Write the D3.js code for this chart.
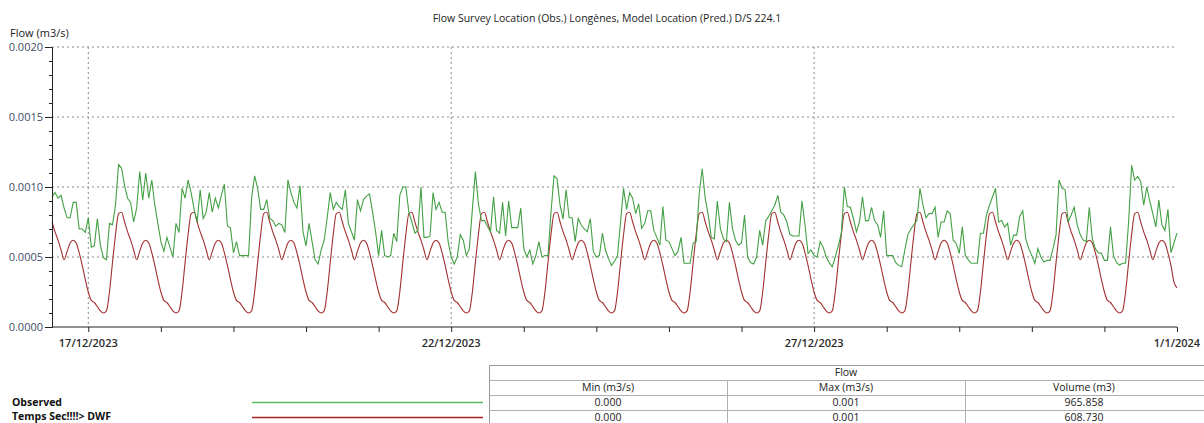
<!DOCTYPE html>
<html>
<head>
<meta charset="utf-8">
<script src="https://d3js.org/d3.v7.min.js"></script>
<style>
  body { margin: 0; background: #fff; }
  svg { display: block; font-family: "Open Sans", "Noto Sans", sans-serif; }
</style>
</head>
<body>
<div id="chart"></div>
<script>
// hourly series, flow in L/s (axis shows m3/s), first value at 16/12/2023 12:00
var startTime = Date.UTC(2023, 11, 16, 12)

var observed = [
  0.93, 0.96, 0.92, 0.94, 0.85, 0.78, 0.78, 0.89, 0.89, 0.70, 0.70, 0.675, 0.78, 0.57, 0.58, 0.775, 0.585, 0.495, 0.48, 0.74, 0.73, 0.87, 1.16, 1.135,
  1.01, 0.92, 0.89, 0.75, 0.85, 1.11, 0.905, 1.10, 0.92, 1.05, 0.87, 0.74, 0.61, 0.54, 0.64, 0.57, 0.50, 0.74, 0.675, 0.99, 0.92,
  1.05, 0.96, 0.84, 0.75, 0.98, 0.775, 0.82, 0.96, 0.82, 0.92, 0.85, 0.94, 1.02, 0.72, 0.71, 0.53, 0.61, 0.51, 0.51, 0.51, 0.51, 0.92, 1.08, 0.99,
  0.84, 0.84, 0.91, 0.775, 0.76, 0.72, 0.74, 0.73, 0.675, 1.05, 0.96, 0.89, 0.85, 1.01, 0.68, 0.58, 0.74, 0.61, 0.48, 0.45, 0.55, 0.62, 0.78, 0.96, 0.84,
  0.89, 0.86, 0.84, 0.98, 0.74, 0.68, 0.62, 0.91, 0.83, 0.91, 0.935, 0.95, 0.82, 0.68, 0.51, 0.69, 0.51, 0.50, 0.51, 0.67, 0.61, 0.94, 1.00, 1.00,
  0.82, 0.75, 0.67, 0.69, 1.00, 0.64, 0.64, 0.65, 0.96, 0.84, 0.89, 0.82, 0.82, 0.61, 0.50, 0.45, 0.50, 0.66, 0.62, 0.51, 0.56, 0.84, 1.11, 0.88,
  0.76, 0.76, 0.72, 0.68, 0.93, 0.69, 0.67, 0.89, 0.65, 0.90, 0.71, 0.71, 0.71, 0.85, 0.56, 0.50, 0.55, 0.45, 0.51, 0.61, 0.50, 0.51, 0.51, 0.82,
  1.08, 1.06, 0.87, 0.77, 0.98, 0.78, 0.78, 0.61, 0.775, 0.73, 0.70, 0.68, 0.775, 0.54, 0.50, 0.51, 0.67, 0.55, 0.49, 0.44, 0.47,
  0.51, 0.75, 0.99, 0.84, 0.96, 0.92, 0.81, 0.88, 0.704, 0.74, 0.83, 0.83, 0.69, 0.64, 0.585, 0.86, 0.62, 0.61, 0.56, 0.51, 0.54, 0.64, 0.455, 0.455,
  0.455, 0.60, 0.61, 0.95, 1.13, 0.92, 0.80, 0.64, 0.63, 0.90, 0.705, 0.63, 0.61, 0.89, 0.705, 0.62, 0.585, 0.60, 0.80, 0.50, 0.46, 0.45, 0.50, 0.69,
  0.585, 0.76, 0.79, 0.83, 0.87, 0.94, 0.82, 0.80, 0.75, 0.66, 0.65, 0.65, 0.65, 0.90, 0.73, 0.526, 0.55, 0.51, 0.50, 0.61, 0.57, 0.50, 0.46, 0.43,
  0.50, 0.58, 0.67, 1.00, 0.86, 0.855, 0.775, 0.68, 0.75, 0.93, 0.76, 0.76, 0.855, 0.76, 0.73, 0.64, 0.83, 0.51, 0.51, 0.51, 0.46,
  0.44, 0.43, 0.55, 0.66, 0.70, 0.73, 0.76, 0.99, 0.87, 0.78, 0.81, 0.81, 0.855, 0.64, 0.75, 0.75, 0.83, 0.81, 0.62, 0.597, 0.526, 0.715, 0.51, 0.48,
  0.455, 0.455, 0.455, 0.67, 0.67, 0.80, 0.87, 0.93, 0.99, 0.75, 0.76, 0.715, 0.74, 0.585, 0.656, 0.656, 0.79, 0.83, 0.63, 0.56, 0.51, 0.455, 0.56, 0.50,
  0.464, 0.476, 0.476, 0.56, 0.656, 1.05, 0.99, 0.98, 0.75, 0.80, 0.855, 0.73, 0.66, 0.62, 0.61, 0.855, 0.63, 0.56, 0.53, 0.526, 0.476, 0.476, 0.715, 0.51,
  0.46, 0.443, 0.455, 0.455, 0.75, 1.155, 1.05, 1.075, 1.04, 0.87, 1.00, 0.90, 0.81, 0.715, 0.906, 0.73, 0.69, 0.84, 0.53, 0.60, 0.67
]

// model dry weather flow, one line per day
var dwf = [
  0.75, 0.68, 0.62, 0.55, 0.48, 0.54, 0.60, 0.62, 0.60, 0.53, 0.44, 0.34,
  0.25, 0.19, 0.175, 0.145, 0.115, 0.10, 0.115, 0.25, 0.46, 0.66, 0.81, 0.82, 0.75, 0.68, 0.62, 0.55, 0.48, 0.54, 0.60, 0.62, 0.60, 0.53, 0.44, 0.34,
  0.25, 0.19, 0.175, 0.145, 0.115, 0.10, 0.115, 0.25, 0.46, 0.66, 0.81, 0.82, 0.75, 0.68, 0.62, 0.55, 0.48, 0.54, 0.60, 0.62, 0.60, 0.53, 0.44, 0.34,
  0.25, 0.19, 0.175, 0.145, 0.115, 0.10, 0.115, 0.25, 0.46, 0.66, 0.81, 0.82, 0.75, 0.68, 0.62, 0.55, 0.48, 0.54, 0.60, 0.62, 0.60, 0.53, 0.44, 0.34,
  0.25, 0.19, 0.175, 0.145, 0.115, 0.10, 0.115, 0.25, 0.46, 0.66, 0.81, 0.82, 0.75, 0.68, 0.62, 0.55, 0.48, 0.54, 0.60, 0.62, 0.60, 0.53, 0.44, 0.34,
  0.25, 0.19, 0.175, 0.145, 0.115, 0.10, 0.115, 0.25, 0.46, 0.66, 0.81, 0.82, 0.75, 0.68, 0.62, 0.55, 0.48, 0.54, 0.60, 0.62, 0.60, 0.53, 0.44, 0.34,
  0.25, 0.19, 0.175, 0.145, 0.115, 0.10, 0.115, 0.25, 0.46, 0.66, 0.81, 0.82, 0.75, 0.68, 0.62, 0.55, 0.48, 0.54, 0.60, 0.62, 0.60, 0.53, 0.44, 0.34,
  0.25, 0.19, 0.175, 0.145, 0.115, 0.10, 0.115, 0.25, 0.46, 0.66, 0.81, 0.82, 0.75, 0.68, 0.62, 0.55, 0.48, 0.54, 0.60, 0.62, 0.60, 0.53, 0.44, 0.34,
  0.25, 0.19, 0.175, 0.145, 0.115, 0.10, 0.115, 0.25, 0.46, 0.66, 0.81, 0.82, 0.75, 0.68, 0.62, 0.55, 0.48, 0.54, 0.60, 0.62, 0.60, 0.53, 0.44, 0.34,
  0.25, 0.19, 0.175, 0.145, 0.115, 0.10, 0.115, 0.25, 0.46, 0.66, 0.81, 0.82, 0.75, 0.68, 0.62, 0.55, 0.48, 0.54, 0.60, 0.62, 0.60, 0.53, 0.44, 0.34,
  0.25, 0.19, 0.175, 0.145, 0.115, 0.10, 0.115, 0.25, 0.46, 0.66, 0.81, 0.82, 0.75, 0.68, 0.62, 0.55, 0.48, 0.54, 0.60, 0.62, 0.60, 0.53, 0.44, 0.34,
  0.25, 0.19, 0.175, 0.145, 0.115, 0.10, 0.115, 0.25, 0.46, 0.66, 0.81, 0.82, 0.75, 0.68, 0.62, 0.55, 0.48, 0.54, 0.60, 0.62, 0.60, 0.53, 0.44, 0.34,
  0.25, 0.19, 0.175, 0.145, 0.115, 0.10, 0.115, 0.25, 0.46, 0.66, 0.81, 0.82, 0.75, 0.68, 0.62, 0.55, 0.48, 0.54, 0.60, 0.62, 0.60, 0.53, 0.44, 0.34,
  0.25, 0.19, 0.175, 0.145, 0.115, 0.10, 0.115, 0.25, 0.46, 0.66, 0.81, 0.82, 0.75, 0.68, 0.62, 0.55, 0.48, 0.54, 0.60, 0.62, 0.60, 0.53, 0.44, 0.34,
  0.25, 0.19, 0.175, 0.145, 0.115, 0.10, 0.115, 0.25, 0.46, 0.66, 0.81, 0.82, 0.75, 0.68, 0.62, 0.55, 0.48, 0.54, 0.60, 0.62, 0.60, 0.53, 0.44, 0.34,
  0.25, 0.19, 0.175, 0.145, 0.115, 0.10, 0.115, 0.25, 0.46, 0.66, 0.81, 0.82, 0.75, 0.68, 0.62, 0.55, 0.48, 0.54, 0.60, 0.62, 0.60, 0.53, 0.44, 0.32,
  0.28
]

var yTicks = [0, 0.5, 1.0, 1.5, 2.0]
var xTickDates = ["2023-12-17", "2023-12-22", "2023-12-27", "2024-01-01"]
var xTickLabels = ["17/12/2023", "22/12/2023", "27/12/2023", "1/1/2024"]

var seriesNames = ["Observed", "Temps Sec!!!!> DWF"]
var seriesColors = ["#44a044", "#a33030"]
var legendColors = ["#5cb85c", "#a52020"]

var tableTitle = "Flow"
var tableHeaders = ["Min (m3/s)", "Max (m3/s)", "Volume (m3)"]
var tableRows = [
  ["0.000", "0.001", "965.858"],
  ["0.000", "0.001", "608.730"]
]

var W = 1204, H = 423
var margin = {top: 47, left: 52, right: 27, bottom: 96}

var svg = d3.select("#chart").append("svg")
  .attr("width", W)
  .attr("height", H)

var hour = 3600 * 1000

var xScale = d3.scaleUtc()
  .domain([new Date(startTime), new Date(Date.UTC(2024, 0, 1))])
  .range([margin.left, W - margin.right])

var yScale = d3.scaleLinear()
  .domain([0, 2])
  .range([H - margin.bottom, margin.top])

var x0 = xScale.range()[0], x1 = xScale.range()[1]
var y0 = yScale.range()[0], y1 = yScale.range()[1]

// grid
svg.append("g").selectAll("line")
  .data(yTicks.filter(function(d){ return d > 0 }))
  .enter().append("line")
  .attr("x1", x0).attr("x2", x1)
  .attr("y1", function(d){ return yScale(d) })
  .attr("y2", function(d){ return yScale(d) })
  .attr("stroke", "#8a8a8a")
  .attr("stroke-dasharray", "2,3")

var majorDates = xTickDates.map(function(d){ return new Date(d + "T00:00:00Z") })

svg.append("g").selectAll("line")
  .data(majorDates.slice(0, 3))
  .enter().append("line")
  .attr("x1", function(d){ return xScale(d) })
  .attr("x2", function(d){ return xScale(d) })
  .attr("y1", y1).attr("y2", y0)
  .attr("stroke", "#8a8a8a")
  .attr("stroke-dasharray", "2,3")

// lines
var obsData = observed.map(function(v, i){ return {t: new Date(startTime + i * hour), v: v} })
var dwfData = dwf.map(function(v, i){ return {t: new Date(startTime + i * hour), v: v} })

var lineLinear = d3.line()
  .x(function(d){ return xScale(d.t) })
  .y(function(d){ return yScale(d.v) })

var lineSmooth = d3.line()
  .curve(d3.curveMonotoneX)
  .x(function(d){ return xScale(d.t) })
  .y(function(d){ return yScale(d.v) })

svg.append("path")
  .attr("d", lineSmooth(dwfData))
  .attr("fill", "none")
  .attr("stroke", seriesColors[1])
  .attr("stroke-width", 1.1)

svg.append("path")
  .attr("d", lineLinear(obsData))
  .attr("fill", "none")
  .attr("stroke", seriesColors[0])
  .attr("stroke-width", 1.1)

// y axis
var yAxis = d3.axisLeft(yScale)
  .tickValues(d3.range(0, 2.0001, 0.1))
  .tickSize(3)
  .tickFormat("")

svg.append("g")
  .attr("transform", "translate(" + x0 + ",0)")
  .call(yAxis)
  .call(function(g){ g.selectAll("path,line").attr("stroke", "#222") })

var yAxisMajor = d3.axisLeft(yScale)
  .tickValues(yTicks)
  .tickSize(7)
  .tickPadding(2)
  .tickFormat(function(d){ return (d / 1000).toFixed(4) })

svg.append("g")
  .attr("transform", "translate(" + x0 + ",0)")
  .call(yAxisMajor)
  .call(function(g){
    g.select(".domain").remove()
    g.selectAll("line").attr("stroke", "#222")
    g.selectAll("text")
      .attr("font-size", "11px")
      .attr("font-family", "'Open Sans', sans-serif")
      .attr("fill", "#3f4d68")
  })

// x axis
var xAxis = d3.axisBottom(xScale)
  .ticks(d3.utcDay.every(1))
  .tickSize(5)
  .tickFormat("")

svg.append("g")
  .attr("transform", "translate(0," + y0 + ")")
  .call(xAxis)
  .call(function(g){
    g.select(".domain").attr("d", "M" + x0 + ",0H" + x1)
    g.selectAll("path,line").attr("stroke", "#222")
  })

svg.append("g").selectAll("text")
  .data(majorDates)
  .enter().append("text")
  .attr("x", function(d){ return xScale(d) })
  .attr("y", y0 + 20)
  .attr("text-anchor", "middle")
  .attr("font-size", "11px")
  .attr("font-weight", 600)
  .attr("fill", "#2a2a2a")
  .text(function(d, i){ return xTickLabels[i] })

// titles
svg.append("text")
  .attr("x", 607)
  .attr("y", 22)
  .attr("text-anchor", "middle")
  .attr("font-size", "10.5px")
  .attr("fill", "#222")
  .text("Flow Survey Location (Obs.) Longènes, Model Location (Pred.) D/S 224.1")

svg.append("text")
  .attr("x", 10)
  .attr("y", 37)
  .attr("font-size", "11px")
  .attr("fill", "#222")
  .text("Flow (m3/s)")

// legend
var legend = svg.append("g")
legend.selectAll("text")
  .data(seriesNames)
  .enter().append("text")
  .attr("x", 12)
  .attr("y", function(d, i){ return 406 + i * 14 })
  .attr("font-size", "10.5px")
  .attr("font-weight", "bold")
  .attr("fill", "#111")
  .text(function(d){ return d })

legend.selectAll("line")
  .data(seriesNames)
  .enter().append("line")
  .attr("x1", 252).attr("x2", 483)
  .attr("y1", function(d, i){ return 402.5 + i * 15 })
  .attr("y2", function(d, i){ return 402.5 + i * 15 })
  .attr("stroke", function(d, i){ return legendColors[i] })
  .attr("stroke-width", 1.5)

// stats table
var tX = 489, tTop = 365, rowH = 15, colW = 238
var table = svg.append("g")

var rowYs = d3.range(0, 4).map(function(i){ return tTop + i * rowH })

table.append("rect")
  .attr("x", tX + 0.5).attr("y", tTop + 0.5)
  .attr("width", colW * 3 + 10).attr("height", rowH * 5)
  .attr("fill", "none")
  .attr("stroke", "#9a9a9a")

table.selectAll(".rowline")
  .data(rowYs.slice(1))
  .enter().append("line")
  .attr("class", "rowline")
  .attr("x1", tX).attr("x2", W)
  .attr("y1", function(d){ return d + 0.5 })
  .attr("y2", function(d){ return d + 0.5 })
  .attr("stroke", "#b0b0b0")

table.selectAll(".colline")
  .data([1, 2])
  .enter().append("line")
  .attr("class", "colline")
  .attr("x1", function(d){ return tX + d * colW + 0.5 })
  .attr("x2", function(d){ return tX + d * colW + 0.5 })
  .attr("y1", tTop + rowH).attr("y2", H)
  .attr("stroke", "#b0b0b0")

table.append("text")
  .attr("x", tX + colW * 1.5)
  .attr("y", tTop + 11)
  .attr("text-anchor", "middle")
  .attr("font-size", "10.5px")
  .attr("fill", "#222")
  .text(tableTitle)

var cells = [tableHeaders].concat(tableRows)
cells.forEach(function(row, r){
  table.selectAll(".cell" + r)
    .data(row)
    .enter().append("text")
    .attr("x", function(d, c){ return tX + colW * c + colW / 2 })
    .attr("y", tTop + rowH * (r + 1) + 11)
    .attr("text-anchor", "middle")
    .attr("font-size", "10.5px")
    .attr("fill", "#222")
    .text(function(d){ return d })
})
</script>
</body>
</html>
